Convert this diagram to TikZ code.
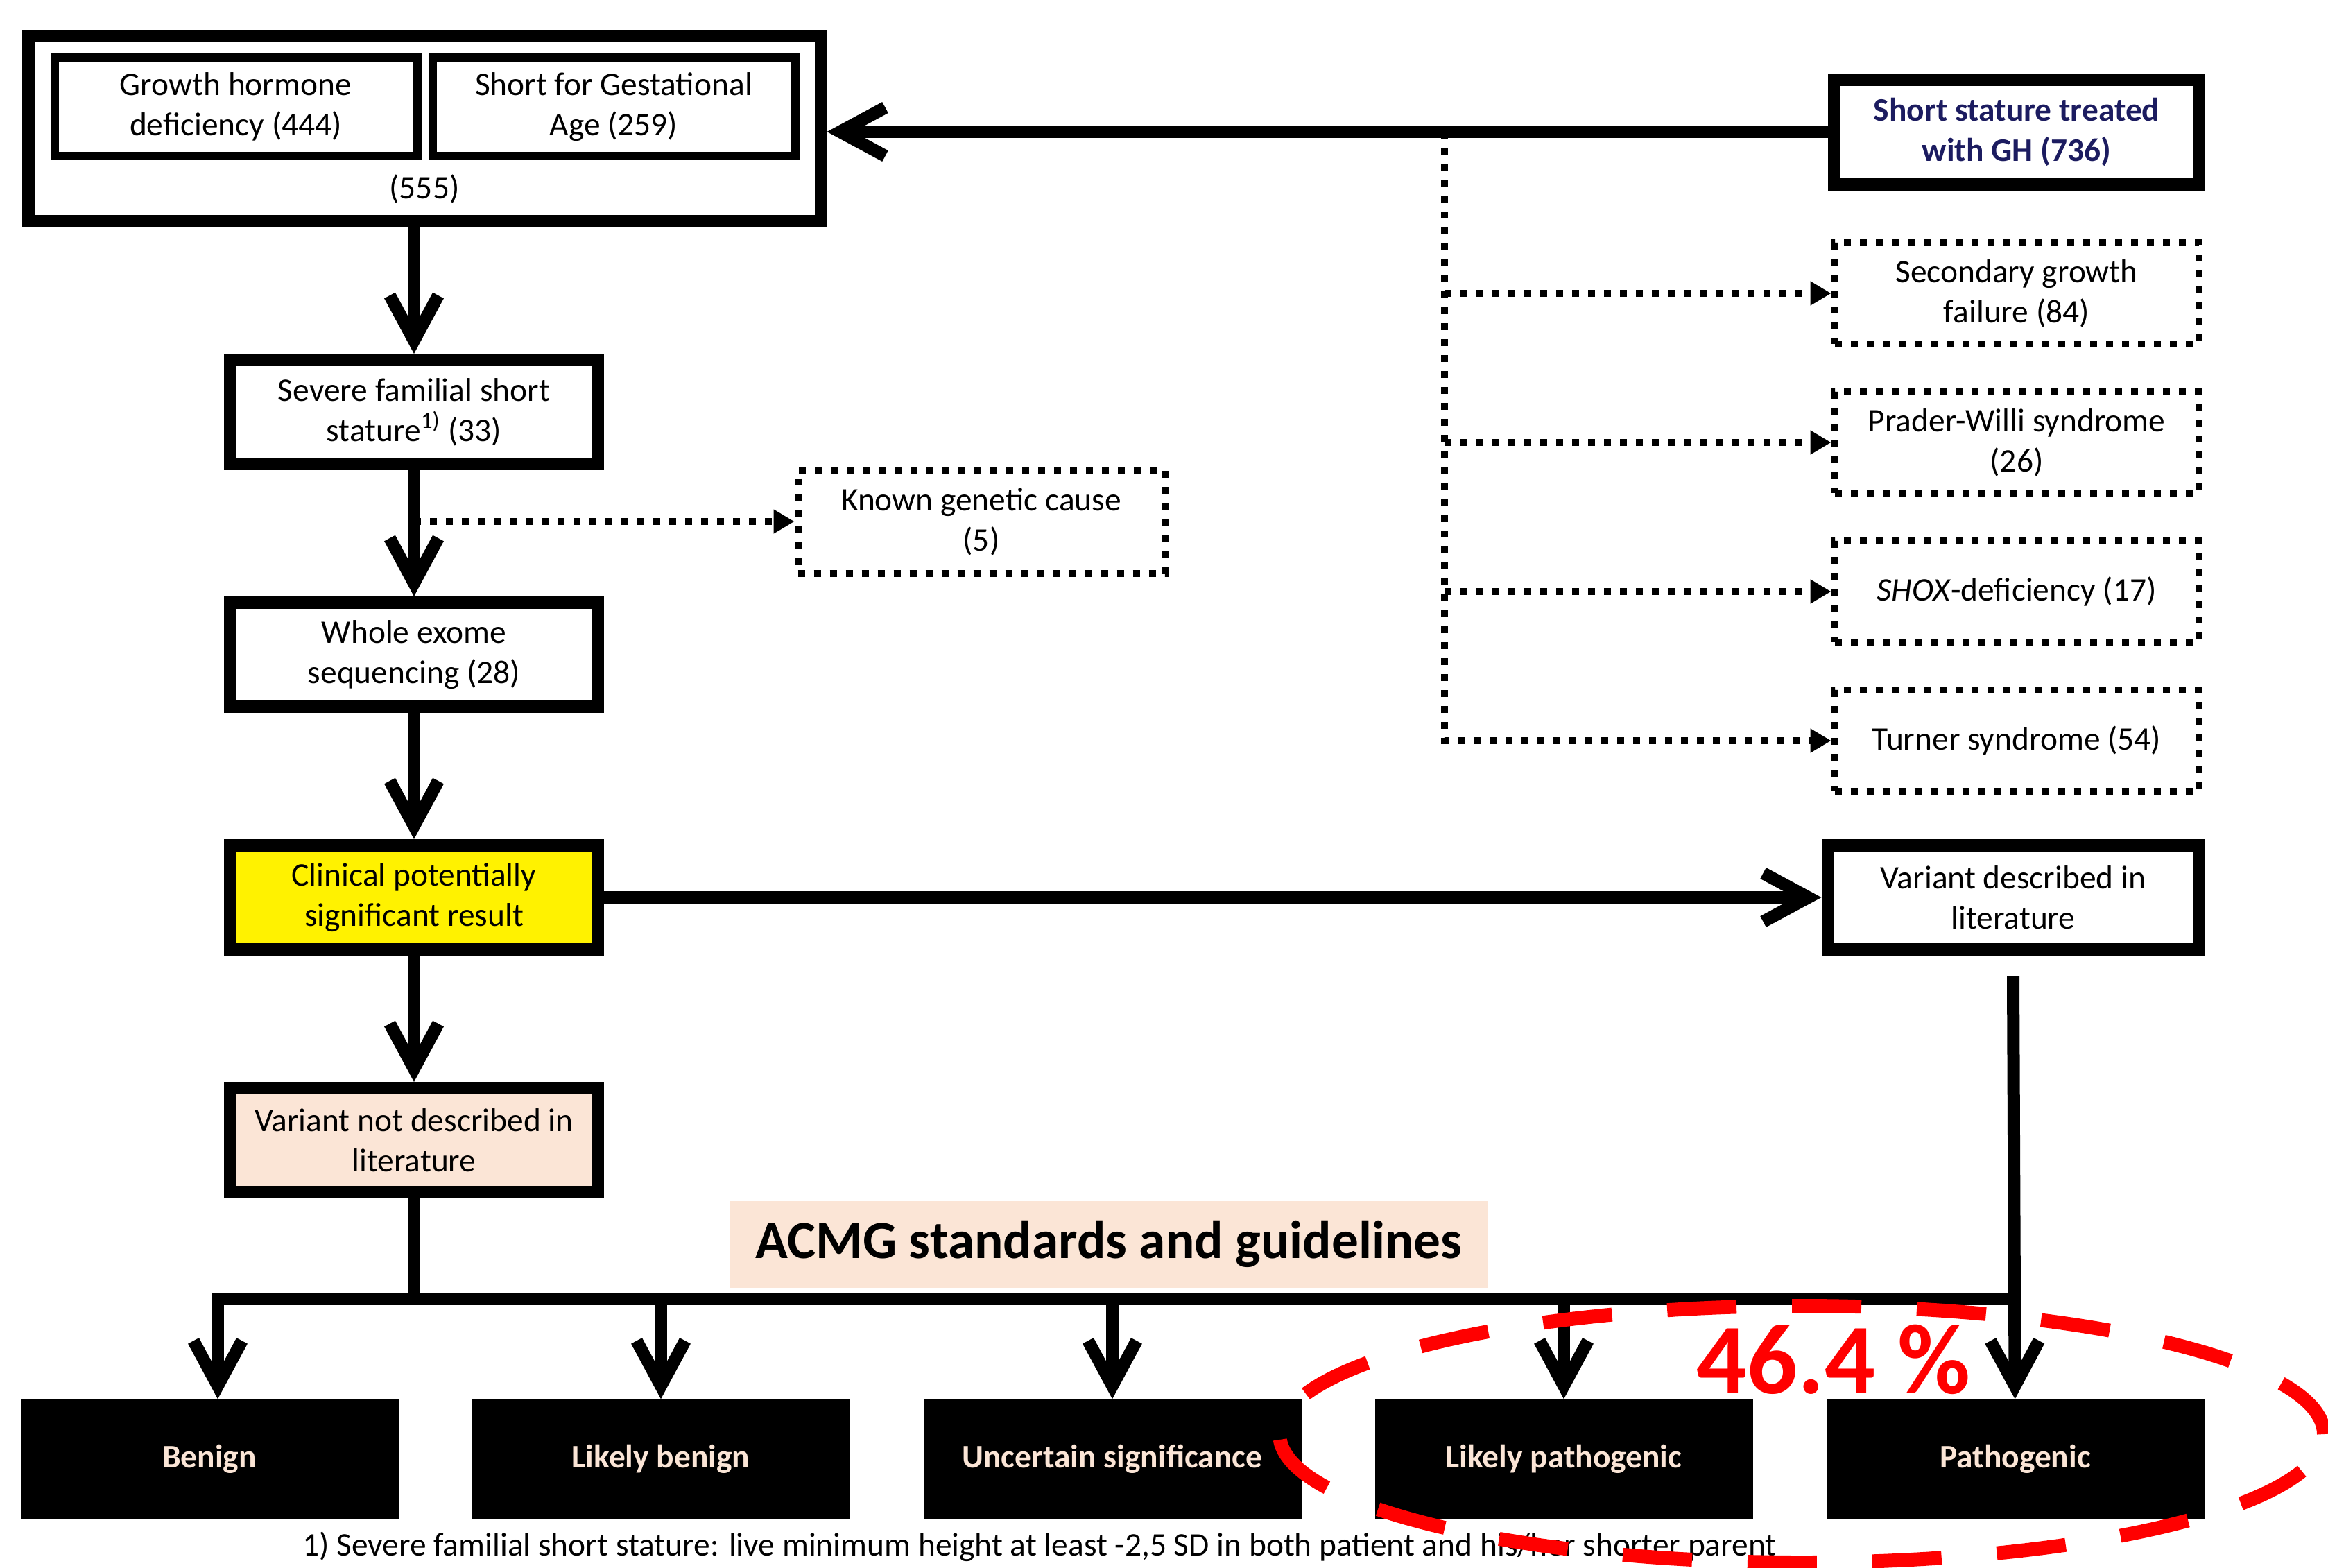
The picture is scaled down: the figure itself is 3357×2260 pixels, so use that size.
\documentclass[tikz,border=0pt]{standalone}
\usepackage{fontspec}
\setmainfont{Carlito}
\usetikzlibrary{arrows.meta, positioning}
\definecolor{peach}{RGB}{251,229,214}
\definecolor{navyblue}{RGB}{28,28,96}
\definecolor{flagred}{RGB}{255,0,0}
\tikzstyle{mainbox} = [
    rectangle,
    minimum width=53mm,
    minimum height=15mm,
    align=center,
    draw=black,
    line width=1.8mm,
    fill=white,
    font=\fontsize{13.5}{16.5}\selectfont
]
\tikzstyle{subbox} = [
    rectangle,
    minimum width=52.3mm,
    minimum height=14.2mm,
    align=center,
    draw=black,
    line width=1.2mm,
    font=\fontsize{13.5}{16.5}\selectfont
]
\tikzstyle{dotbox} = [
    rectangle,
    minimum width=52.5mm,
    minimum height=14.6mm,
    align=center,
    draw=black,
    line width=1mm,
    dash pattern=on 1mm off 1.3mm,
    font=\fontsize{13.5}{16.5}\selectfont
]
\tikzstyle{classbox} = [
    rectangle,
    minimum width=54.5mm,
    minimum height=17.2mm,
    align=center,
    fill=black,
    text=peach,
    font=\fontsize{13.5}{16.5}\selectfont\bfseries
]
\tikzstyle{arrow} = [line width=1.8mm,-{Straight Barb[length=6.5mm,width=7mm]}]
\tikzstyle{link} = [line width=1.8mm]
\tikzstyle{dotarrow} = [line width=1mm,dash pattern=on 1mm off 1.3mm,-{Triangle[length=3mm,width=3.3mm]}]
\tikzstyle{ring} = [draw=flagred, line width=2mm, dash pattern=on 10mm off 8mm]

\begin{document}
\begin{tikzpicture}[x=0.1mm, y=-0.1mm, node distance=35mm]
\useasboundingbox (0,0) rectangle (3357,2260);

% patient groups
\node (grp) [mainbox, minimum width=114.3mm, minimum height=26.7mm] at (612,185) {};
\node (ghd) [subbox] at (340,154) {Growth hormone\\deficiency (444)};
\node (sga) [subbox, right of=ghd, xshift=19.5mm] {Short for Gestational\\Age (259)};
\node (total) [font=\fontsize{13.5}{16.5}\selectfont] at (612,272) {(555)};

\node (sst) [mainbox, minimum width=52.6mm, minimum height=15.1mm, text=navyblue, font=\fontsize{13.5}{16.5}\selectfont\bfseries] at (2908,190) {Short stature treated\\with GH (736)};
\node (sec) [dotbox] at (2908,423) {Secondary growth\\failure (84)};
\node (pw) [dotbox, below of=sec, yshift=13.5mm] {Prader-Willi syndrome\\(26)};
\node (shox) [dotbox, below of=pw, yshift=13.5mm] {\textit{SHOX}-deficiency (17)};
\node (turner) [dotbox, below of=shox, yshift=13.5mm] {Turner syndrome (54)};

% main column
\node (severe) [mainbox] at (597,594) {Severe familial short\\stature\textsuperscript{1)} (33)};
\node (known) [dotbox, minimum width=52.9mm, minimum height=14.9mm] at (1415,752) {Known genetic cause\\(5)};
\node (wes) [mainbox, below of=severe] {Whole exome\\sequencing (28)};
\node (clin) [mainbox, below of=wes, fill=yellow] {Clinical potentially\\significant result};
\node (varnot) [mainbox, below of=clin, fill=peach] {Variant not described in\\literature};
\node (vardesc) [mainbox, right of=clin, xshift=195.6mm, minimum width=53.5mm] {Variant described in\\literature};

\node (acmg) [fill=peach, minimum width=109.2mm, minimum height=12.5mm, font=\fontsize{22}{26}\selectfont\bfseries] at (1599,1794) {ACMG standards and guidelines};

% ACMG classes
\node (benign) [classbox] at (302,2104) {Benign};
\node (lben) [classbox, right of=benign, xshift=30.1mm] {Likely benign};
\node (unc) [classbox, right of=lben, xshift=30.1mm] {Uncertain significance};
\node (lpat) [classbox, right of=unc, xshift=30.1mm] {Likely pathogenic};
\node (patho) [classbox, right of=lpat, xshift=30.1mm] {Pathogenic};

\node (note) [font=\fontsize{13.5}{16}\selectfont] at (1499,2230) {1) Severe familial short stature: live minimum height at least -2,5 SD in both patient and his/her shorter parent};

% connectors
\coordinate (tap) at (2083,190);
\draw [dotarrow] (tap) |- (turner);
\draw [dotarrow] (tap |- sec) -- (sec);
\draw [dotarrow] (tap |- pw) -- (pw);
\draw [dotarrow] (tap |- shox) -- (shox);
\draw [arrow] (sst) -- (sst -| grp.east);

\draw [arrow] (grp.south -| severe) -- (severe);
\draw [dotarrow] (severe |- known) -- (known);
\draw [arrow] (severe) -- (wes);
\draw [arrow] (wes) -- (clin);
\draw [arrow] (clin) -- (varnot);
\draw [arrow] (clin) -- (vardesc);

\coordinate (barl) at (314,1873);
\draw [link] (varnot) -- (varnot |- barl);
\draw [arrow] (barl -| patho) -- (barl) -- (barl |- benign.north);
\draw [arrow] (barl -| lben) -- (lben);
\draw [arrow] (barl -| unc) -- (unc);
\draw [arrow] (barl -| lpat) -- (lpat);
\draw [arrow] ([yshift=-3mm]vardesc.south) -- (patho);

\node (pct) [text=flagred, font=\fontsize{41}{48}\selectfont\bfseries] at (2644,1960) {46.4 \%};
\draw [ring] (2598,2068) ellipse [x radius=75.3mm, y radius=18.5mm];

\end{tikzpicture}
\end{document}
